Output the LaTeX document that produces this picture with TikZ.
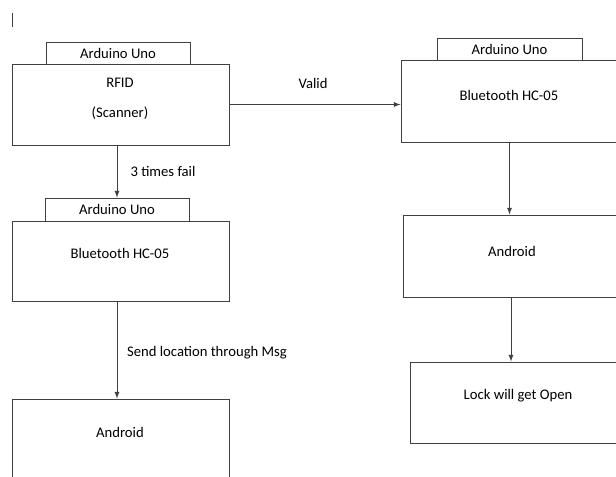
\documentclass[tikz,border=0pt]{standalone}
\usepackage{fontspec}
\setmainfont{Carlito}
\begin{document}
\begin{tikzpicture}[>=latex,x=0.75pt,y=-0.75pt]
\tikzset{bloc/.style={draw=black!75,line width=0.75pt,inner sep=0pt,font=\fontsize{11}{13}\selectfont},
texte/.style={inner sep=1pt,font=\fontsize{11}{13}\selectfont},
fleche/.style={->,black!75,line width=0.75pt}}
\useasboundingbox (0,0) rectangle (616,476);
\clip (0,0) rectangle (616,476);

\draw [black!75,line width=0.75pt](12,13)-- (12,27);%le curseur

% colonne de gauche
\node [bloc,minimum width=217*0.75pt,minimum height=81*0.75pt] (rfid) at (120.5,104.5) {};
\node [bloc,fill=white,minimum width=144*0.75pt,minimum height=22*0.75pt] (unoA) at (118,53) {Arduino Uno};
\node [texte] (rfidT) at (120,83) {RFID};
\node [texte] (scanT) at (120,113) {(Scanner)};

\node [bloc,minimum width=217*0.75pt,minimum height=80*0.75pt] (btB) at (120.5,261) {};
\node [bloc,fill=white,minimum width=144*0.75pt,minimum height=23*0.75pt] (unoB) at (117,209.5) {Arduino Uno};
\node [texte] (btBT) at (120,253) {Bluetooth HC-05};

\node [bloc,minimum width=217*0.75pt,minimum height=82*0.75pt] (andL) at (120.5,440) {};
\node [texte] (andLT) at (120,432) {Android};

% colonne de droite
\node [bloc,minimum width=217*0.75pt,minimum height=82*0.75pt] (btR) at (509.5,101) {};
\node [bloc,fill=white,minimum width=145*0.75pt,minimum height=22*0.75pt] (unoR) at (509.5,49) {Arduino Uno};
\node [texte] (btRT) at (509,95) {Bluetooth HC-05};

\node [bloc,minimum width=216*0.75pt,minimum height=82*0.75pt] (andR) at (511,256) {};
\node [texte] (andRT) at (512,251) {Android};

\node [bloc,minimum width=216*0.75pt,minimum height=81*0.75pt] (lock) at (518,402.5) {};
\node [texte] (lockT) at (518,396) {Lock will get Open};

% les fleches
\draw [fleche](rfid.east)-- (rfid.east -| btR.west);
\node [texte] (valid) at (313,83) {Valid};

\draw [fleche](unoB.north |- rfid.south)-- (unoB.north);
\node [texte] (fail) at (163,171) {3 times fail};

\draw [fleche](unoB.north |- btB.south)-- (unoB.north |- andL.north);
\node [texte] (msg) at (207,353) {Send location through Msg};

\draw [fleche](btR.south)-- (btR.south |- andR.north);
\draw [fleche](andR.south)-- (andR.south |- lock.north);

\end{tikzpicture}
\end{document}
